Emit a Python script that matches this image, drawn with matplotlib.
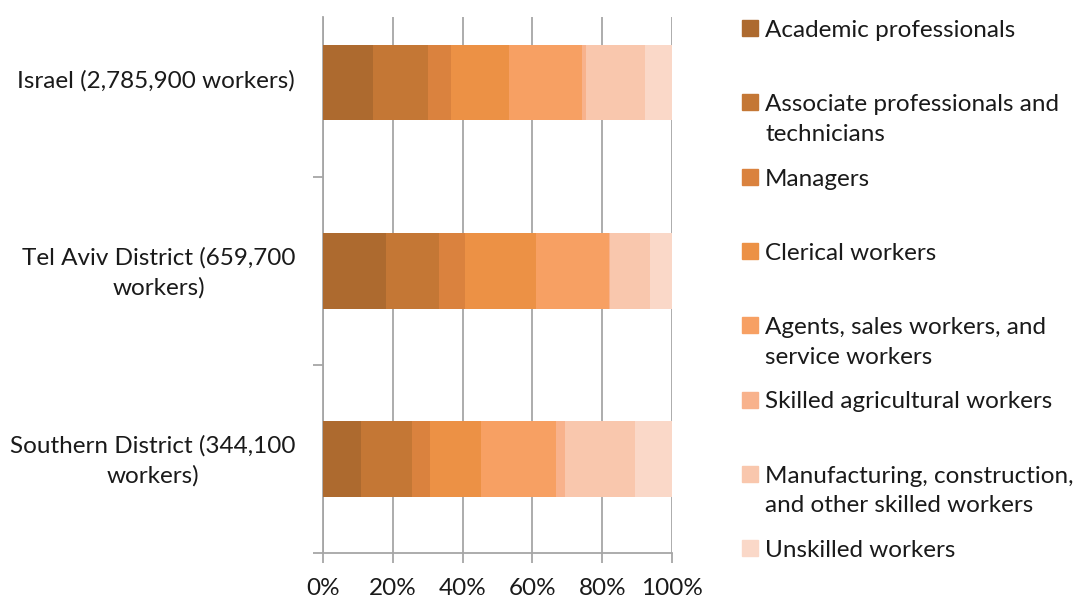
import matplotlib.pyplot as plt
from matplotlib.patches import Rectangle
import matplotlib.transforms as mtransforms
import numpy as np

# regions, bottom to top as drawn
regions = ['Southern District (344,100\nworkers)',
           'Tel Aviv District (659,700\nworkers)',
           'Israel (2,785,900 workers)']

occupations = ['Academic professionals',
               'Associate professionals and\ntechnicians',
               'Managers',
               'Clerical workers',
               'Agents, sales workers, and\nservice workers',
               'Skilled agricultural workers',
               'Manufacturing, construction,\nand other skilled workers',
               'Unskilled workers']

# share of workers (%) per occupation, order: Southern, Tel Aviv, Israel
academic = [10.8, 18.1, 14.4]
associate = [14.7, 15.2, 15.8]
managers = [5.2, 7.6, 6.6]
clerical = [14.7, 20.4, 16.4]
agents = [21.3, 20.8, 21.0]
agricultural = [2.7, 0.3, 1.2]
manufacturing = [20.0, 11.7, 16.8]
unskilled = [10.6, 6.2, 7.8]

colors = ['#AD6A2F', '#C47735', '#DA823E', '#EC9145',
          '#F7A063', '#F8B28C', '#F9C7AD', '#FAD8C8']

plt.rcParams['font.family'] = ['Lato', 'DejaVu Sans']
grey = '#A6A6A6'
txt = '#1A1A1A'

fig = plt.figure(figsize=(10.8, 5.98), dpi=100)
ax = fig.add_axes([323 / 1080, 1 - 553 / 598, 349 / 1080, 536 / 598])

series = [academic, associate, managers, clerical, agents,
          agricultural, manufacturing, unskilled]
data = np.array(series)
totals = data.sum(axis=0)
shares = data / totals * 100
y = np.arange(len(regions))
left = np.zeros(len(regions))
for vals, c in zip(shares, colors):
    ax.barh(y, vals, left=left, height=0.40, color=c, zorder=3)
    left += vals

ax.set_xlim(0, 100)
ax.set_ylim(-0.5, 2.35)
ax.set_xticks(np.arange(0, 101, 20))
ax.set_xticklabels([f'{v}%' for v in range(0, 101, 20)], fontsize=17.5, color=txt)
ax.xaxis.grid(True, color=grey, linewidth=1.3, zorder=0)
ax.tick_params(axis='x', length=7, width=1.3, color=grey, pad=11)

ax.set_yticks([-0.5, 0.5, 1.5])
ax.set_yticklabels([])
ax.set_yticks(y, minor=True)
ax.set_yticklabels(regions, minor=True, fontsize=17.5, color=txt,
                   multialignment='center', linespacing=1.45)
ax.tick_params(axis='y', which='major', length=7, width=1.3, color=grey)
ax.tick_params(axis='y', which='minor', length=0, pad=20)
shift = mtransforms.ScaledTranslation(0, 4 / 100, fig.dpi_scale_trans)
for lab in ax.get_yticklabels(minor=True):
    lab.set_horizontalalignment('right')
    lab.set_transform(lab.get_transform() + shift)

for s in ['top', 'right']:
    ax.spines[s].set_visible(False)
for s in ['left', 'bottom']:
    ax.spines[s].set_color(grey)
    ax.spines[s].set_linewidth(1.3)

# legend drawn by hand so the entries keep an even spacing
for i, (name, c) in enumerate(zip(occupations, colors)):
    ypix = 28 + i * 74.3
    fig.patches.append(Rectangle((742 / 1080, 1 - (ypix + 8) / 598), 16 / 1080, 16 / 598,
                                 transform=fig.transFigure, color=c))
    fig.text(765 / 1080, 1 - (ypix - 8) / 598, name, fontsize=17.5, va='top',
             ha='left', linespacing=1.5, color=txt)

fig.savefig('out.png', dpi=100)
